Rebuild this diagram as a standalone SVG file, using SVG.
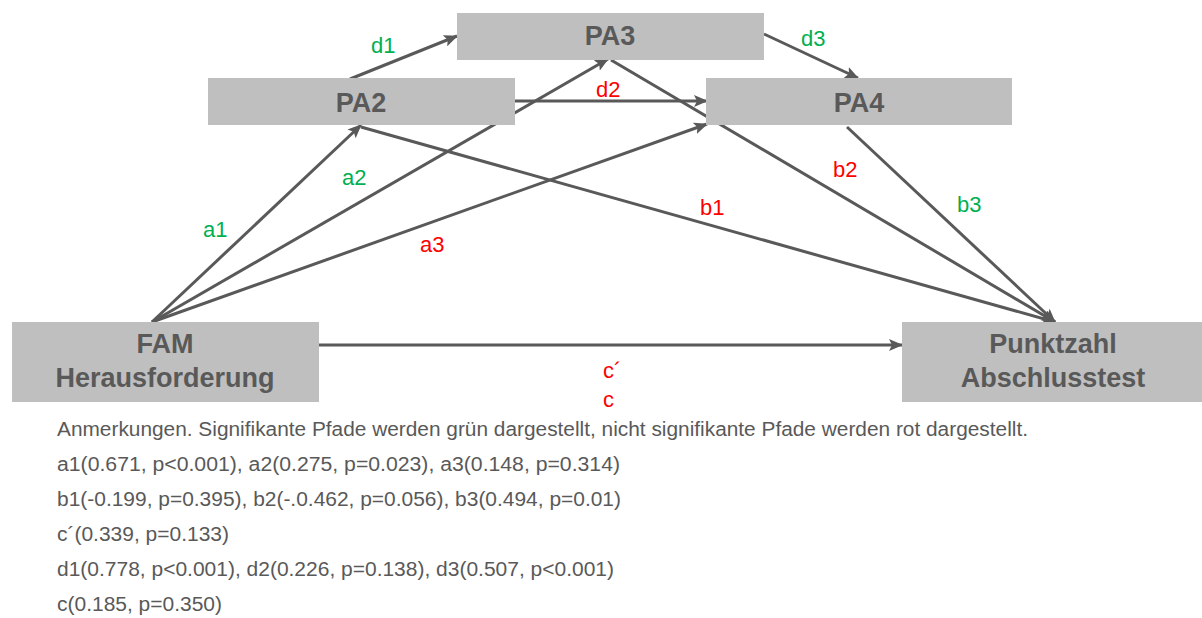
<svg xmlns="http://www.w3.org/2000/svg" width="1202" height="618" viewBox="0 0 1202 618">
<style>
.box{fill:#BFBFBF;}
.nt{font-family:"Liberation Sans",Arial,sans-serif;font-weight:bold;font-size:27px;fill:#595959;text-anchor:middle;}
.ln{stroke:#595959;stroke-width:3;fill:none;marker-end:url(#ah);}
.lb{font-family:"Liberation Sans",Arial,sans-serif;font-size:22px;}
.g{fill:#00B050;}
.r{fill:#FF0000;}
.note{font-family:"Liberation Sans",Arial,sans-serif;font-size:20px;fill:#595959;}
</style>
<defs>
<marker id="ah" markerUnits="userSpaceOnUse" markerWidth="14" markerHeight="12" refX="13" refY="6" orient="auto">
<path d="M0,0 L14,6 L0,12 L3,6 z" fill="#595959"/>
</marker>
</defs>
<rect width="1202" height="618" fill="#FFFFFF"/>
<g id="connectors">
<line class="ln" x1="350" y1="79" x2="457" y2="36"/>
<line class="ln" x1="513" y1="101" x2="707" y2="101"/>
<line class="ln" x1="764" y1="34" x2="858" y2="78"/>
<line class="ln" x1="152" y1="322" x2="361" y2="125"/>
<line class="ln" x1="152" y1="322" x2="608" y2="59"/>
<line class="ln" x1="152" y1="322" x2="707" y2="124"/>
<line class="ln" x1="361" y1="127" x2="1055" y2="322"/>
<line class="ln" x1="611" y1="60" x2="1055" y2="322"/>
<line class="ln" x1="847" y1="127" x2="1055" y2="322"/>
<line class="ln" x1="319" y1="345" x2="902" y2="345"/>
</g>
<g id="PA3">
<rect class="box" x="457" y="13" width="307" height="47"/>
<text class="nt" x="610" y="45">PA3</text>
</g>
<g id="PA2">
<rect class="box" x="208" y="78" width="307" height="47"/>
<text class="nt" x="361" y="112">PA2</text>
</g>
<g id="PA4">
<rect class="box" x="706" y="78" width="306" height="47"/>
<text class="nt" x="859" y="112">PA4</text>
</g>
<g id="FAM">
<rect class="box" x="12" y="322" width="307" height="80"/>
<text class="nt" x="165" y="353">FAM</text>
<text class="nt" x="165" y="387">Herausforderung</text>
</g>
<g id="Punktzahl">
<rect class="box" x="902" y="322" width="300" height="80"/>
<text class="nt" x="1053" y="353">Punktzahl</text>
<text class="nt" x="1053" y="387">Abschlusstest</text>
</g>
<g id="labels">
<text class="lb g" x="371" y="53">d1</text>
<text class="lb r" x="596" y="97">d2</text>
<text class="lb g" x="801" y="46">d3</text>
<text class="lb g" x="203" y="237">a1</text>
<text class="lb g" x="342" y="185">a2</text>
<text class="lb r" x="420" y="252">a3</text>
<text class="lb r" x="700" y="215">b1</text>
<text class="lb r" x="833" y="177">b2</text>
<text class="lb g" x="957" y="212">b3</text>
<text class="lb r" x="603" y="378">c´</text>
<text class="lb r" x="603" y="407">c</text>
</g>
<g id="notes">
<text class="note" x="57" y="436" textLength="971" lengthAdjust="spacingAndGlyphs">Anmerkungen. Signifikante Pfade werden grün dargestellt, nicht signifikante Pfade werden rot dargestellt.</text>
<text class="note" x="57" y="471" textLength="563" lengthAdjust="spacingAndGlyphs">a1(0.671, p&lt;0.001), a2(0.275, p=0.023), a3(0.148, p=0.314)</text>
<text class="note" x="57" y="506" textLength="564" lengthAdjust="spacingAndGlyphs">b1(-0.199, p=0.395), b2(-.0.462, p=0.056), b3(0.494, p=0.01)</text>
<text class="note" x="57" y="541" textLength="172" lengthAdjust="spacingAndGlyphs">c´(0.339, p=0.133)</text>
<text class="note" x="57" y="576" textLength="557" lengthAdjust="spacingAndGlyphs">d1(0.778, p&lt;0.001), d2(0.226, p=0.138), d3(0.507, p&lt;0.001)</text>
<text class="note" x="57" y="611" textLength="165" lengthAdjust="spacingAndGlyphs">c(0.185, p=0.350)</text>
</g>
</svg>
